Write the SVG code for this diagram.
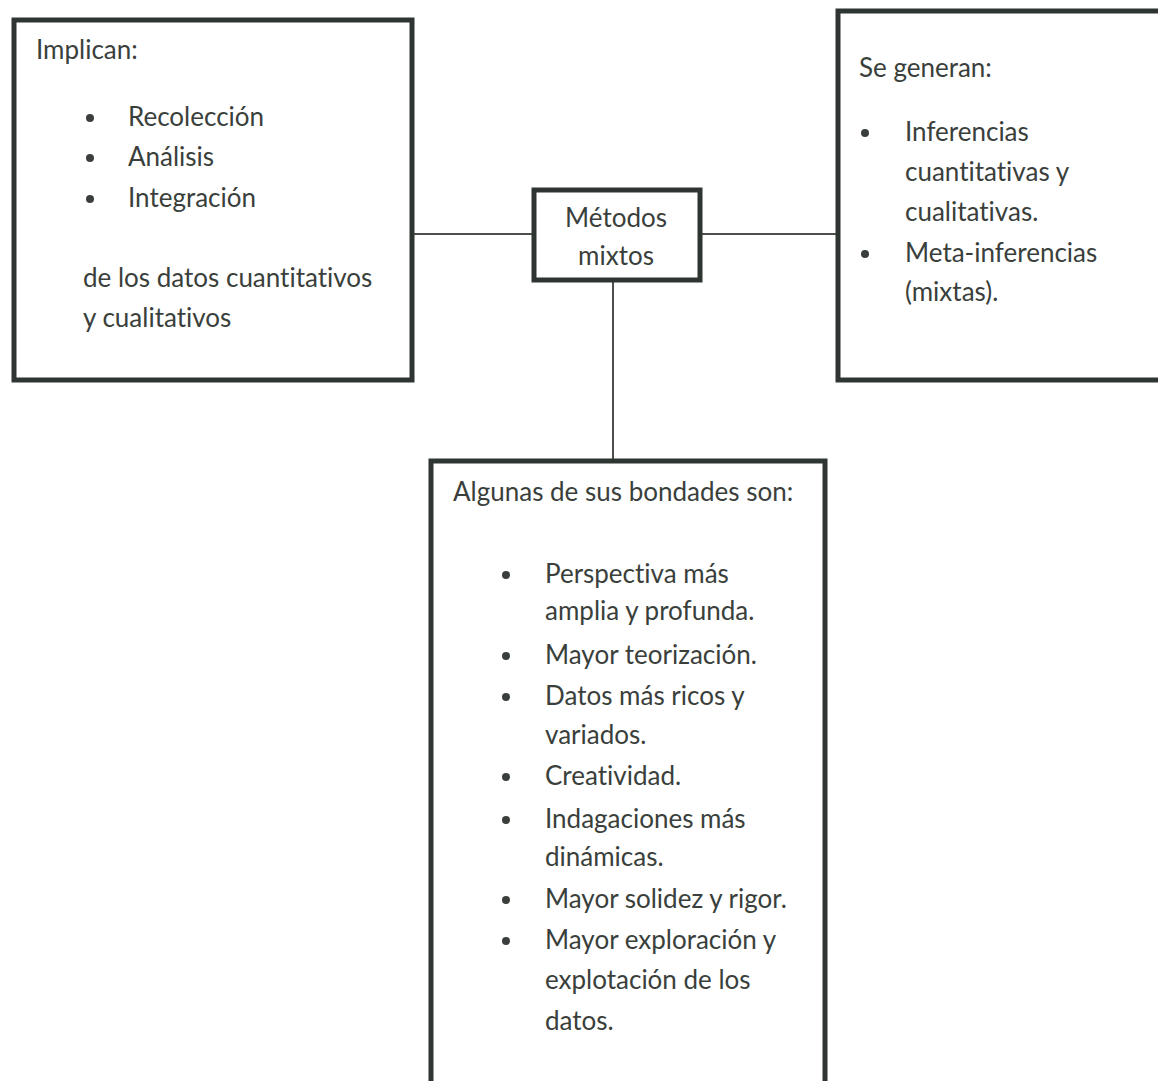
<svg xmlns="http://www.w3.org/2000/svg" width="1158" height="1081" viewBox="0 0 1158 1081">
<style>
.box{fill:#fff;stroke:#2f3531;stroke-width:5}
.t{font-family:Lato,"Open Sans","Liberation Sans",sans-serif;font-size:26px;fill:#3a3f3c;font-variant-ligatures:none;font-feature-settings:"liga" 0}
.c{text-anchor:middle}
.b{fill:#3a3f3c}
.ln{stroke:#4a4f4c;stroke-width:2;fill:none}
</style>
<rect x="0" y="0" width="1158" height="1081" fill="#fff"/>
<g id="connectors">
<line class="ln" x1="412" y1="234" x2="534" y2="234"/>
<line class="ln" x1="700" y1="234" x2="837" y2="234"/>
<line class="ln" x1="613" y1="281" x2="613" y2="461"/>
</g>
<g id="node-implican">
<rect class="box" x="14" y="20" width="398" height="360"/>
<text class="t" x="36" y="59">Implican:</text>
<circle class="b" cx="90" cy="118" r="4"/>
<text class="t" x="128" y="126">Recolección</text>
<circle class="b" cx="90" cy="158" r="4"/>
<text class="t" x="128" y="166">Análisis</text>
<circle class="b" cx="90" cy="199" r="4"/>
<text class="t" x="128" y="207">Integración</text>
<text class="t" x="83" y="287">de los datos cuantitativos</text>
<text class="t" x="83" y="327">y cualitativos</text>
</g>
<g id="node-metodos">
<rect class="box" x="534" y="190" width="166" height="90"/>
<text class="t c" x="616" y="227">Métodos</text>
<text class="t c" x="616" y="265">mixtos</text>
</g>
<g id="node-generan">
<rect class="box" x="838" y="11" width="330" height="369"/>
<text class="t" x="859" y="77">Se generan:</text>
<circle class="b" cx="865" cy="133" r="4"/>
<text class="t" x="905" y="141">Inferencias</text>
<text class="t" x="905" y="181">cuantitativas y</text>
<text class="t" x="905" y="221">cualitativas.</text>
<circle class="b" cx="865" cy="254" r="4"/>
<text class="t" x="905" y="262">Meta-inferencias</text>
<text class="t" x="905" y="301">(mixtas).</text>
</g>
<g id="node-bondades">
<rect class="box" x="431" y="461" width="394" height="640"/>
<text class="t" x="453" y="501">Algunas de sus bondades son:</text>
<circle class="b" cx="506" cy="575" r="4"/>
<text class="t" x="545" y="583">Perspectiva más</text>
<text class="t" x="545" y="620">amplia y profunda.</text>
<circle class="b" cx="506" cy="656" r="4"/>
<text class="t" x="545" y="664">Mayor teorización.</text>
<circle class="b" cx="506" cy="697" r="4"/>
<text class="t" x="545" y="705">Datos más ricos y</text>
<text class="t" x="545" y="744">variados.</text>
<circle class="b" cx="506" cy="777" r="4"/>
<text class="t" x="545" y="785">Creatividad.</text>
<circle class="b" cx="506" cy="820" r="4"/>
<text class="t" x="545" y="828">Indagaciones más</text>
<text class="t" x="545" y="866">dinámicas.</text>
<circle class="b" cx="506" cy="900" r="4"/>
<text class="t" x="545" y="908">Mayor solidez y rigor.</text>
<circle class="b" cx="506" cy="941" r="4"/>
<text class="t" x="545" y="949">Mayor exploración y</text>
<text class="t" x="545" y="989">explotación de los</text>
<text class="t" x="545" y="1030">datos.</text>
</g>
</svg>
